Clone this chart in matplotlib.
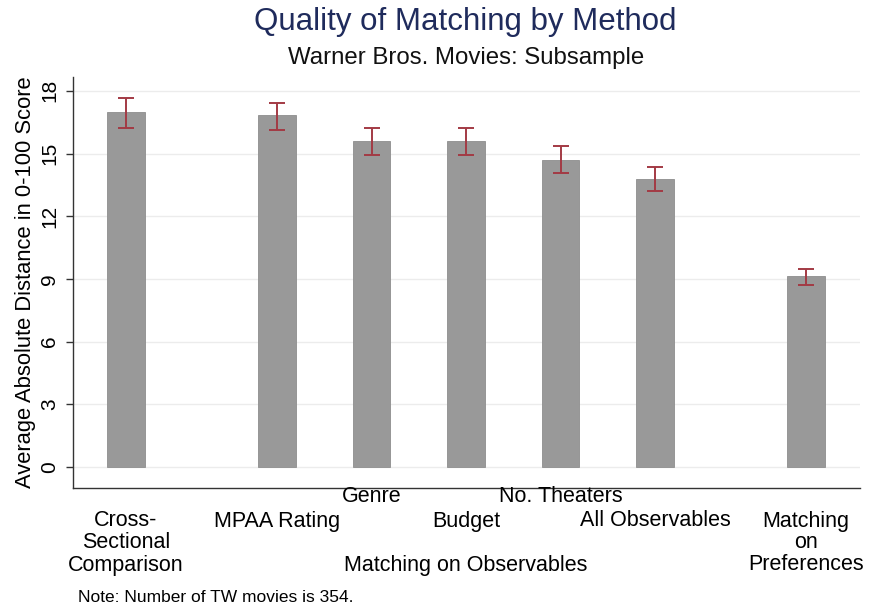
import matplotlib
matplotlib.use("Agg")
import matplotlib.pyplot as plt
import matplotlib.transforms as mtransforms

plt.rcParams['font.family'] = ['Liberation Sans', 'DejaVu Sans']

# ---- data ----
methods = ["Cross-Sectional Comparison", "MPAA Rating", "Genre", "Budget",
           "No. Theaters", "All Observables", "Matching on Preferences"]
means = [16.98, 16.84, 15.61, 15.61, 14.70, 13.79, 9.12]
ci_low = [16.22, 16.11, 14.93, 14.92, 14.05, 13.19, 8.71]
ci_high = [17.67, 17.43, 16.23, 16.23, 15.37, 14.37, 9.46]
yticks = [0, 3, 6, 9, 12, 15, 18]

# layout (positions of bars along x)
positions = [0, 1.6, 2.6, 3.6, 4.6, 5.6, 7.2]

fig = plt.figure(figsize=(8.7, 6.09), dpi=100)
ax = fig.add_axes([73/870, 1-488/609, (860-73)/870, (488-77)/609])

ax.bar(positions, means, width=0.40, color='#999999', edgecolor='#8e8e8e',
       linewidth=0.6, zorder=2)
err_lo = [m - l for m, l in zip(means, ci_low)]
err_hi = [h - m for m, h in zip(means, ci_high)]
ax.errorbar(positions, means, yerr=[err_lo, err_hi], fmt='none',
            ecolor='#a33a44', elinewidth=1.4, capsize=5.5, capthick=1.4, zorder=3)

ax.set_xlim(-0.56, 7.77)
ax.set_ylim(-1.0, 18.66)
ax.set_yticks(yticks)
ax.set_yticklabels([str(t) for t in yticks], rotation=90, va='center', fontsize=15)
ax.tick_params(axis='y', length=5, width=1, color='#333333', pad=5)
ax.set_xticks([])
for y in yticks:
    ax.axhline(y, color='#ececec', lw=1.0, zorder=1)

for s in ['top', 'right']:
    ax.spines[s].set_visible(False)
ax.spines['left'].set_color('#333333')
ax.spines['bottom'].set_color('#333333')
ax.spines['left'].set_linewidth(1.0)
ax.spines['bottom'].set_linewidth(1.0)

ax.set_ylabel("Average Absolute Distance in 0-100 Score", fontsize=15.8, labelpad=3)

fig.text(465/870, 1-22/609, "Quality of Matching by Method", ha='center', va='center',
         fontsize=22.5, color='#1f2b5c')
fig.text(466/870, 1-58/609, "Warner Bros. Movies: Subsample", ha='center', va='center',
         fontsize=17.3, color='#111111')

trans = mtransforms.blended_transform_factory(ax.transData, fig.transFigure)
rows = [497, 521, 543, 565]
def rowy(i):
    return 1 - rows[i]/609

lab_fs = 15.5
ax.text(positions[0], rowy(1), "Cross-", transform=trans, ha='center', va='center', fontsize=lab_fs)
ax.text(positions[0], rowy(2), "Sectional", transform=trans, ha='center', va='center', fontsize=lab_fs)
ax.text(positions[0], rowy(3), "Comparison", transform=trans, ha='center', va='center', fontsize=lab_fs)
ax.text(positions[1], rowy(1), methods[1], transform=trans, ha='center', va='center', fontsize=lab_fs)
ax.text(positions[2], rowy(0), methods[2], transform=trans, ha='center', va='center', fontsize=lab_fs)
ax.text(positions[3], rowy(1), methods[3], transform=trans, ha='center', va='center', fontsize=lab_fs)
ax.text(positions[4], rowy(0), methods[4], transform=trans, ha='center', va='center', fontsize=lab_fs)
ax.text(positions[5], rowy(1), methods[5], transform=trans, ha='center', va='center', fontsize=lab_fs)
ax.text((positions[1] + positions[5]) / 2, rowy(3), "Matching on Observables", transform=trans,
        ha='center', va='center', fontsize=lab_fs)
ax.text(positions[6], rowy(1), "Matching", transform=trans, ha='center', va='center', fontsize=lab_fs)
ax.text(positions[6], rowy(2), "on", transform=trans, ha='center', va='center', fontsize=lab_fs)
ax.text(positions[6], rowy(3), "Preferences", transform=trans, ha='center', va='center', fontsize=lab_fs)

fig.text(78/870, 1-598/609, "Note: Number of TW movies is 354.", ha='left', va='center', fontsize=12.5)

fig.savefig("out.png", dpi=100)
